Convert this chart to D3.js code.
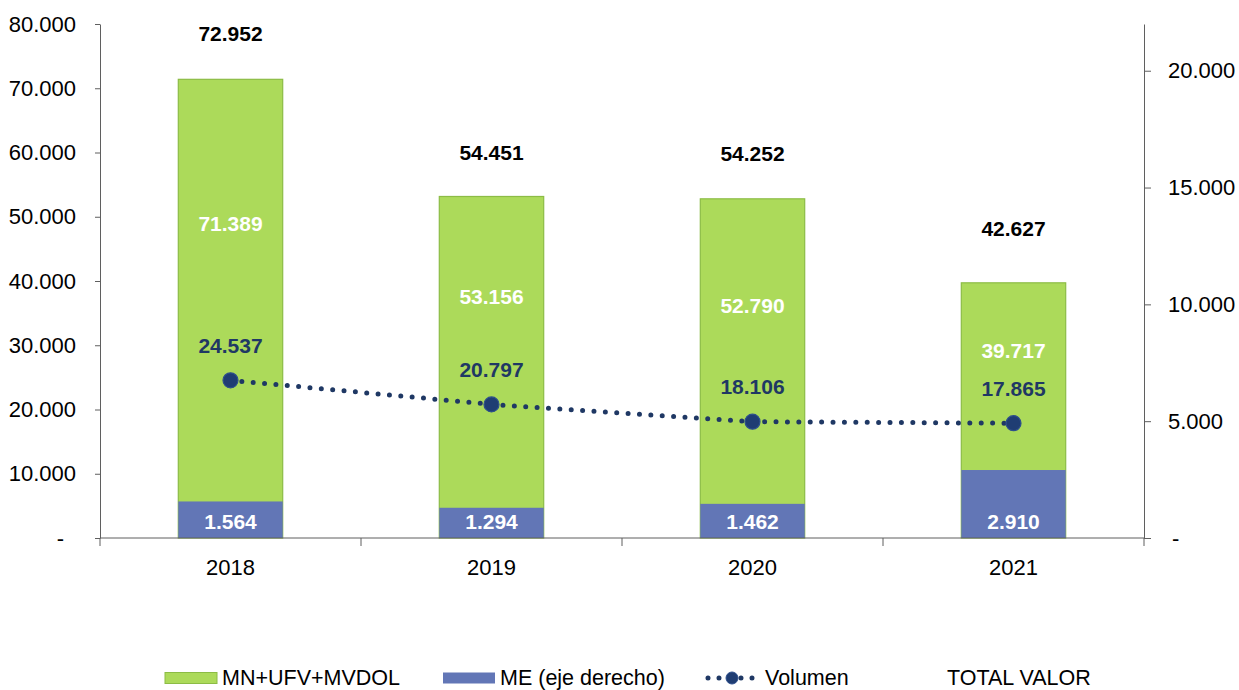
<!DOCTYPE html>
<html>
<head>
<meta charset="utf-8">
<script src="https://cdn.jsdelivr.net/npm/d3@7"></script>
<style>
  body { margin: 0; background: #fff; }
  svg { display: block; font-family: "Liberation Sans", Arial, sans-serif; }
</style>
</head>
<body>
<div id="chart"></div>
<script>
// values
const years = ['2018', '2019', '2020', '2021'];
const mnValues = [71389, 53156, 52790, 39717];   // MN+UFV+MVDOL, left axis
const meValues = [1564, 1294, 1462, 2910];       // ME, right axis
const volumen = [24537, 20797, 18106, 17865];    // left axis
const totalValor = [72952, 54451, 54252, 42627];
const leftTicks = [0, 10000, 20000, 30000, 40000, 50000, 60000, 70000, 80000];
const rightTicks = [0, 5000, 10000, 15000, 20000];
const legendLabels = ['MN+UFV+MVDOL', 'ME (eje derecho)', 'Volumen', 'TOTAL VALOR'];

const width = 1239;
const height = 690;
const margin = {top: 24, right: 95, bottom: 152, left: 100};

const green = '#acda5a';
const greenStroke = '#8cbc45';
const blue = '#6276b6';
const navy = '#1f3864';
const axisColor = '#5f5f5f';

const locale = d3.formatLocale({decimal: ',', thousands: '.', grouping: [3], currency: ['', '']});
const fmt = locale.format(',d');
const tickFmt = d => d === 0 ? '-' : fmt(d);

const svg = d3.select('#chart').append('svg')
    .attr('width', width)
    .attr('height', height);

const x = d3.scaleBand()
    .domain(years)
    .range([margin.left, width - margin.right])
    .paddingInner(0.6)
    .paddingOuter(0.3);

const y = d3.scaleLinear()
    .domain([0, 80000])
    .range([height - margin.bottom, margin.top]);

const y2 = d3.scaleLinear()
    .domain([0, 22000])
    .range([height - margin.bottom, margin.top]);

const data = years.map((year, i) => ({
  year,
  mn: mnValues[i],
  me: meValues[i],
  vol: volumen[i],
  total: totalValor[i]
}));

// axes
svg.append('g')
    .attr('transform', `translate(${margin.left},0)`)
    .call(d3.axisLeft(y).tickValues(leftTicks).tickFormat(tickFmt)
        .tickSizeInner(5).tickSizeOuter(0).tickPadding(19))
    .call(g => g.select('.domain').attr('stroke', axisColor))
    .call(g => g.selectAll('.tick line').attr('stroke', axisColor))
    .call(g => g.selectAll('.tick text')
        .attr('font-size', 22).attr('fill', '#000').attr('font-family', null))
    .call(g => g.selectAll('.tick').filter(d => d === 0).select('text').attr('dx', -12));

svg.append('g')
    .attr('transform', `translate(${width - margin.right},0)`)
    .call(d3.axisRight(y2).tickValues(rightTicks).tickFormat(tickFmt)
        .tickSizeInner(7).tickSizeOuter(0).tickPadding(17))
    .call(g => g.select('.domain').attr('stroke', axisColor))
    .call(g => g.selectAll('.tick line').attr('stroke', axisColor))
    .call(g => g.selectAll('.tick text')
        .attr('font-size', 22).attr('fill', '#000').attr('font-family', null))
    .call(g => g.selectAll('.tick').filter(d => d === 0).select('text').attr('dx', 4));

// bars: green on left axis, blue (secondary axis) drawn over it
svg.append('g')
  .selectAll('rect')
  .data(data)
  .join('rect')
    .attr('x', d => x(d.year))
    .attr('y', d => y(d.mn))
    .attr('width', x.bandwidth())
    .attr('height', d => y(0) - y(d.mn))
    .attr('fill', green)
    .attr('stroke', greenStroke)
    .attr('stroke-width', 1.2);

svg.append('g')
  .selectAll('rect')
  .data(data)
  .join('rect')
    .attr('x', d => x(d.year))
    .attr('y', d => y2(d.me))
    .attr('width', x.bandwidth())
    .attr('height', d => y2(0) - y2(d.me))
    .attr('fill', blue);

// category axis
const xAxis = svg.append('g')
    .attr('transform', `translate(0,${y(0)})`);

xAxis.append('line')
    .attr('x1', margin.left)
    .attr('x2', width - margin.right)
    .attr('stroke', axisColor);

const edge = (x.step() - x.bandwidth()) / 2;
const edges = years.map(d => x(d) - edge).concat([x(years[years.length - 1]) + x.bandwidth() + edge]);

xAxis.selectAll('.edge')
  .data(edges)
  .join('line')
    .attr('class', 'edge')
    .attr('x1', d => d)
    .attr('x2', d => d)
    .attr('y2', 8)
    .attr('stroke', axisColor);

xAxis.selectAll('.year')
  .data(years)
  .join('text')
    .attr('class', 'year')
    .attr('x', d => x(d) + x.bandwidth() / 2)
    .attr('y', 37)
    .attr('text-anchor', 'middle')
    .attr('font-size', 22)
    .text(d => d);

// volumen line
const cx = d => x(d.year) + x.bandwidth() / 2;

const line = d3.line()
    .x(cx)
    .y(d => y(d.vol));

svg.append('path')
    .datum(data)
    .attr('d', line)
    .attr('fill', 'none')
    .attr('stroke', navy)
    .attr('stroke-width', 5)
    .attr('stroke-linecap', 'round')
    .attr('stroke-dasharray', '0 11.4');

svg.append('g')
  .selectAll('circle')
  .data(data)
  .join('circle')
    .attr('cx', cx)
    .attr('cy', d => y(d.vol))
    .attr('r', 7.5)
    .attr('fill', '#1f3d73')
    .attr('stroke', '#2d4f8c')
    .attr('stroke-width', 1.2);

// labels
const labels = svg.append('g')
    .attr('font-weight', 'bold')
    .attr('font-size', 21)
    .attr('text-anchor', 'middle')
    .attr('dominant-baseline', 'central');

labels.selectAll('.total')
  .data(data)
  .join('text')
    .attr('class', 'total')
    .attr('x', cx)
    .attr('y', d => y(d.total) - 36)
    .attr('fill', '#000')
    .text(d => fmt(d.total));

labels.selectAll('.mn')
  .data(data)
  .join('text')
    .attr('class', 'mn')
    .attr('x', cx)
    .attr('y', d => y(d.mn) + 0.48 * (y(d.vol) - y(d.mn)))
    .attr('fill', '#fff')
    .text(d => fmt(d.mn));

labels.selectAll('.me')
  .data(data)
  .join('text')
    .attr('class', 'me')
    .attr('x', cx)
    .attr('y', y2(0) - 17)
    .attr('fill', '#fff')
    .text(d => fmt(d.me));

labels.selectAll('.vol')
  .data(data)
  .join('text')
    .attr('class', 'vol')
    .attr('x', cx)
    .attr('y', d => y(d.vol) - 35)
    .attr('fill', navy)
    .text(d => fmt(d.vol));

// legend
const legendX = [165, 443, 705, 947];
const legend = svg.append('g')
    .attr('transform', 'translate(0,678)');

const item = legend.selectAll('g')
  .data(legendLabels)
  .join('g')
    .attr('transform', (d, i) => `translate(${legendX[i]},0)`);

item.filter((d, i) => i < 2)
  .append('rect')
    .attr('y', -5.5)
    .attr('width', 52)
    .attr('height', 11)
    .attr('fill', (d, i) => i === 0 ? green : blue)
    .attr('stroke', (d, i) => i === 0 ? greenStroke : 'none');

item.filter((d, i) => i === 2)
  .call(g => g.append('line')
      .attr('x1', 3).attr('x2', 52)
      .attr('stroke', navy)
      .attr('stroke-width', 5)
      .attr('stroke-linecap', 'round')
      .attr('stroke-dasharray', '0 11'))
  .call(g => g.append('circle')
      .attr('cx', 27)
      .attr('r', 6)
      .attr('fill', '#1f3d73')
      .attr('stroke', '#2d4f8c'));

item.append('text')
    .attr('x', (d, i) => i === 3 ? 0 : (i === 2 ? 60 : 57))
    .attr('y', 7)
    .attr('font-size', 21.5)
    .text(d => d);
</script>
</body>
</html>
